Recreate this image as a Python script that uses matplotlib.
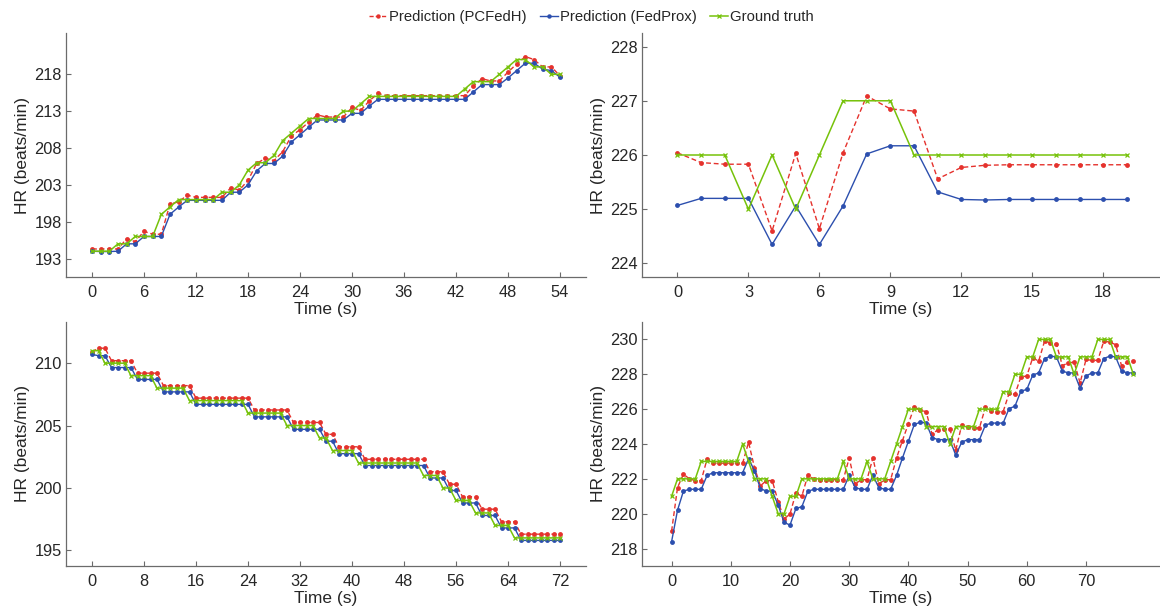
import numpy as np
import matplotlib.pyplot as plt
from matplotlib.lines import Line2D

plt.rcParams['font.family'] = ['Liberation Sans', 'DejaVu Sans']

# --- data ---
# top-left
gt_a = [194, 194, 194, 195, 195, 196, 196, 196, 199, 200,
        201, 201, 201, 201, 201, 202, 202, 203, 205, 206,
        206, 207, 209, 210, 211, 212, 212, 212, 212, 213,
        213, 214, 215, 215, 215, 215, 215, 215, 215, 215,
        215, 215, 215, 216, 217, 217, 217, 218, 219, 220,
        220, 219, 219, 218, 218]
pcfedh_a = [194.3, 194.3, 194.3, 194.3, 195.7, 195.3, 196.7, 196.3, 196.3, 200.4,
            200.7, 201.6, 201.3, 201.3, 201.3, 201.3, 202.6, 202.3, 203.6, 205.9,
            206.6, 206.3, 207.5, 209.6, 210.5, 211.5, 212.5, 212.2, 212.2, 212.2,
            213.5, 213.1, 214.4, 215.4, 215.1, 215.1, 215.1, 215.1, 215.1, 215.1,
            215.1, 215.1, 215.1, 215.1, 216.4, 217.4, 217.1, 217.1, 218.3, 219.4,
            220.4, 220.0, 219.0, 219.0, 217.8]
fedprox_a = [194.0, 193.95, 193.95, 194.0, 195.0, 195.0, 196.0, 196.0, 196.0, 199.0,
             200.0, 200.9, 200.9, 200.9, 200.9, 200.9, 202.0, 202.0, 203.0, 204.9,
             205.9, 205.9, 206.9, 208.8, 209.8, 210.8, 211.8, 211.8, 211.8, 211.8,
             212.7, 212.7, 213.7, 214.6, 214.6, 214.6, 214.6, 214.6, 214.6, 214.6,
             214.6, 214.6, 214.6, 214.6, 215.6, 216.6, 216.6, 216.6, 217.5, 218.5,
             219.5, 219.5, 218.7, 218.5, 217.6]

# top-right
gt_b = [226, 226, 226, 225, 226, 225, 226, 227, 227, 227,
        226, 226, 226, 226, 226, 226, 226, 226, 226, 226]
pcfedh_b = [226.04, 225.86, 225.83, 225.83, 224.6, 226.03, 224.64, 226.04, 227.09, 226.85,
            226.81, 225.56, 225.77, 225.81, 225.82, 225.82, 225.82, 225.82, 225.82, 225.82]
fedprox_b = [225.07, 225.2, 225.2, 225.2, 224.35, 225.06, 224.35, 225.06, 226.02, 226.17,
             226.17, 225.32, 225.18, 225.17, 225.18, 225.18, 225.18, 225.18, 225.18, 225.18]

# bottom-left
gt_c = [211, 211, 210, 210, 210, 210, 209, 209, 209, 209,
        208, 208, 208, 208, 208, 207, 207, 207, 207, 207,
        207, 207, 207, 207, 206, 206, 206, 206, 206, 206,
        205, 205, 205, 205, 205, 204, 204, 203, 203, 203,
        203, 202, 202, 202, 202, 202, 202, 202, 202, 202,
        202, 201, 201, 201, 200, 200, 199, 199, 199, 198,
        198, 198, 197, 197, 197, 196, 196, 196, 196, 196,
        196, 196, 196]
pcfedh_c = [210.9, 211.2, 211.2, 210.2, 210.2, 210.2, 210.2, 209.2, 209.2, 209.2,
            209.2, 208.2, 208.2, 208.2, 208.2, 208.2, 207.2, 207.2, 207.2, 207.2,
            207.2, 207.2, 207.2, 207.2, 207.2, 206.25, 206.25, 206.25, 206.25, 206.25,
            206.25, 205.25, 205.25, 205.25, 205.25, 205.25, 204.3, 204.3, 203.3, 203.3,
            203.3, 203.3, 202.3, 202.3, 202.3, 202.3, 202.3, 202.3, 202.3, 202.3,
            202.3, 202.3, 201.3, 201.3, 201.3, 200.3, 200.3, 199.3, 199.3, 199.3,
            198.3, 198.3, 198.3, 197.3, 197.3, 197.3, 196.3, 196.3, 196.3, 196.3,
            196.3, 196.3, 196.3]
fedprox_c = [210.7, 210.6, 210.6, 209.65, 209.65, 209.65, 209.65, 208.7, 208.7, 208.7,
             208.7, 207.7, 207.7, 207.7, 207.7, 207.7, 206.7, 206.7, 206.7, 206.7,
             206.7, 206.7, 206.7, 206.7, 206.7, 205.7, 205.7, 205.7, 205.7, 205.7,
             205.7, 204.7, 204.7, 204.7, 204.7, 204.7, 203.75, 203.75, 202.75, 202.75,
             202.75, 202.75, 201.8, 201.8, 201.8, 201.8, 201.8, 201.8, 201.8, 201.8,
             201.8, 201.8, 200.8, 200.8, 200.8, 199.8, 199.8, 198.8, 198.8, 198.8,
             197.8, 197.8, 197.8, 196.8, 196.8, 196.8, 195.8, 195.8, 195.8, 195.8,
             195.8, 195.8, 195.8]

# bottom-right
gt_d = [221, 222, 222, 222, 222, 223, 223, 223, 223, 223,
        223, 223, 224, 223, 222, 222, 222, 221, 220, 220,
        221, 221, 222, 222, 222, 222, 222, 222, 222, 223,
        222, 222, 222, 223, 222, 222, 222, 223, 224, 225,
        226, 226, 226, 225, 225, 225, 225, 224, 225, 225,
        225, 225, 226, 226, 226, 226, 227, 227, 228, 228,
        229, 229, 230, 230, 230, 229, 229, 229, 228, 229,
        229, 229, 230, 230, 230, 229, 229, 229, 228]
pcfedh_d = [219.0, 221.5, 222.27, 222.0, 221.9, 221.9, 223.15, 222.9, 222.9, 222.9,
            222.9, 222.9, 222.9, 224.1, 222.65, 221.6, 221.9, 221.9, 220.7, 219.7,
            219.98, 221.2, 221.0, 222.2, 222.0, 221.95, 221.95, 221.95, 221.95, 221.95,
            223.2, 221.7, 221.95, 221.95, 223.2, 221.7, 221.95, 221.95, 223.2, 224.2,
            225.17, 226.13, 225.95, 225.85, 224.55, 224.83, 224.87, 224.87, 223.64, 225.08,
            224.95, 224.92, 224.92, 226.1, 225.9, 225.85, 225.85, 226.9, 226.85, 227.85,
            227.9, 228.95, 228.75, 229.9, 229.8, 229.75, 228.5, 228.65, 228.7, 227.5,
            228.85, 228.8, 228.8, 229.9, 229.85, 229.7, 228.5, 228.7, 228.75]
fedprox_d = [218.4, 220.2, 221.3, 221.4, 221.4, 221.4, 222.2, 222.35, 222.35, 222.35,
             222.35, 222.35, 222.35, 223.16, 222.47, 221.44, 221.3, 221.3, 220.5, 219.5,
             219.35, 220.3, 220.4, 221.28, 221.4, 221.4, 221.4, 221.4, 221.4, 221.4,
             222.2, 221.5, 221.4, 221.4, 222.2, 221.5, 221.4, 221.4, 222.2, 223.2,
             224.16, 225.12, 225.25, 225.2, 224.37, 224.25, 224.25, 224.25, 223.35, 224.1,
             224.25, 224.25, 224.25, 225.08, 225.2, 225.2, 225.2, 226.03, 226.17, 227.03,
             227.13, 227.95, 228.08, 228.9, 229.04, 229.0, 228.18, 228.08, 228.08, 227.2,
             227.9, 228.08, 228.08, 228.9, 229.04, 229.0, 228.18, 228.08, 228.08]

# colours
c_red = '#e5322d'
c_blue = '#2c4fae'
c_green = '#76c20a'
c_axis = '#6b6b6b'
c_text = '#262626'

fig = plt.figure(figsize=(11.6, 6.12), dpi=100)

W, H = 1160, 612
def px_axes(x0, y0, x1, y1):
    return fig.add_axes([x0 / W, 1 - y1 / H, (x1 - x0) / W, (y1 - y0) / H])

panels = [
    (px_axes(66, 33, 586, 277), gt_a, pcfedh_a, fedprox_a,
     (-3, 57), (190.5, 223.6), np.arange(0, 55, 6), np.arange(193, 219, 5)),
    (px_axes(642, 33, 1160, 277), gt_b, pcfedh_b, fedprox_b,
     (-1.5, 20.4), (223.75, 228.25), np.arange(0, 19, 3), np.arange(224, 229, 1)),
    (px_axes(66, 322, 586, 566), gt_c, pcfedh_c, fedprox_c,
     (-4, 76), (193.75, 213.3), np.arange(0, 73, 8), np.arange(195, 211, 5)),
    (px_axes(642, 322, 1160, 566), gt_d, pcfedh_d, fedprox_d,
     (-5, 82.5), (217, 231), np.arange(0, 71, 10), np.arange(218, 231, 2)),
]

for ax, gt, pc, fp, xl, yl, xt, yt in panels:
    t = np.arange(len(gt))
    ax.plot(t, pc, color=c_red, linestyle='--', dashes=(3.5, 2), lw=1.0,
            marker='o', ms=3.5, mew=0)
    ax.plot(t, fp, color=c_blue, linestyle='-', lw=1.0,
            marker='o', ms=3.5, mew=0)
    ax.plot(t, gt, color=c_green, linestyle='-', lw=1.1,
            marker='x', ms=3.4, mew=0.9)
    ax.set_xlim(*xl)
    ax.set_ylim(*yl)
    ax.set_xticks(xt)
    ax.set_yticks(yt)
    for s in ['top', 'right']:
        ax.spines[s].set_visible(False)
    for s in ['left', 'bottom']:
        ax.spines[s].set_color(c_axis)
        ax.spines[s].set_linewidth(0.9)
    ax.tick_params(direction='in', length=3.5, width=0.8, color=c_axis,
                   labelcolor=c_text, labelsize=11.8)
    ax.tick_params(axis='x', pad=5.5)
    ax.tick_params(axis='y', pad=3)
    ax.set_xlabel('Time (s)', fontsize=12.5, color=c_text, labelpad=1.5)
    ax.set_ylabel('HR (beats/min)', fontsize=12.5, color=c_text, labelpad=3)

handles = [
    Line2D([], [], color=c_red, linestyle='--', dashes=(3, 1.5), lw=1.0,
           marker='o', ms=3.2, mew=0),
    Line2D([], [], color=c_blue, linestyle='-', lw=1.0, marker='o', ms=3.2, mew=0),
    Line2D([], [], color=c_green, linestyle='-', lw=1.1, marker='x', ms=3.2, mew=0.9),
]
labels = ['Prediction (PCFedH)', 'Prediction (FedProx)', 'Ground truth']
fig.legend(handles, labels, loc='upper center', bbox_to_anchor=(0.51, 1.005),
           ncol=3, frameon=False, fontsize=10.7, handlelength=1.2,
           handletextpad=0.15, columnspacing=0.9, labelcolor=c_text)

fig.savefig('out.png', dpi=100)
